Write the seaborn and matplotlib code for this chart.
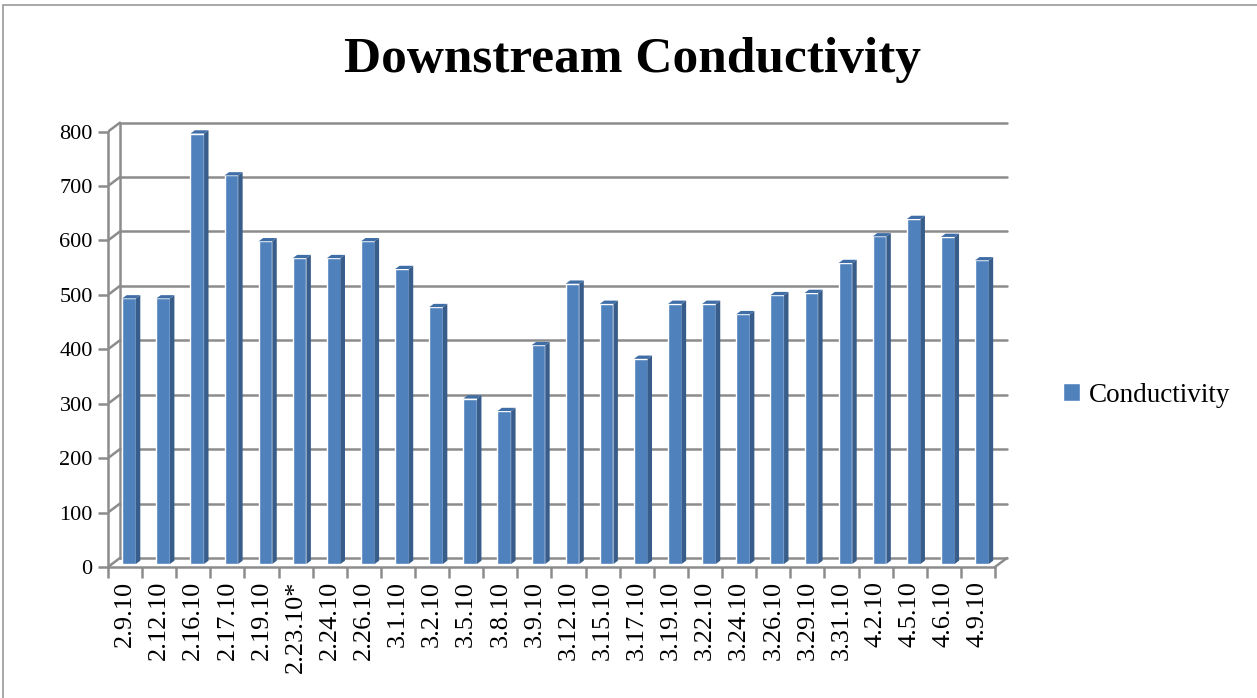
import matplotlib
matplotlib.use("Agg")
from matplotlib import pyplot as plt
from matplotlib.patches import Polygon, Rectangle
from matplotlib.transforms import ScaledTranslation
import numpy as np
import pandas as pd
import seaborn as sns

# dados
datas = ['2.9.10', '2.12.10', '2.16.10', '2.17.10', '2.19.10', '2.23.10*', '2.24.10',
         '2.26.10', '3.1.10', '3.2.10', '3.5.10', '3.8.10', '3.9.10', '3.12.10',
         '3.15.10', '3.17.10', '3.19.10', '3.22.10', '3.24.10', '3.26.10', '3.29.10',
         '3.31.10', '4.2.10', '4.5.10', '4.6.10', '4.9.10']
condutividade = [488, 488, 791, 714, 593, 562, 562, 593, 542, 472, 304, 281, 402, 515,
                 478, 377, 478, 478, 459, 494, 498, 553, 602, 634, 601, 558]
y_ticks = [0, 100, 200, 300, 400, 500, 600, 700, 800]

azul = '#4F81BD'
azul_lado = '#385D8A'
azul_topo = '#3F6DA6'
cinza = '#8C8C8C'

sns.set_style('white')
plt.rcParams['font.family'] = ['Liberation Serif', 'DejaVu Serif']
plt.rcParams['text.color'] = 'black'

df = pd.DataFrame({'Data': datas, 'Conductivity': condutividade})

fig = plt.figure(figsize=(12.57, 6.98), dpi=100)
ax = fig.add_axes([0.0859, 0.1877, 0.7165, 0.6393])

sns.barplot(data=df, x='Data', y='Conductivity', color=azul, width=0.4,
            saturation=1, ax=ax, label='Conductivity', zorder=3)

n = len(datas)
ax.set_xlim(-0.5, n - 0.5 + 0.4)
ax.set_ylim(0, 820)

# parede do fundo (efeito 3D)
dxc, dyc = 0.35, 16.5
for v in y_ticks:
    ax.plot([-0.5 + dxc, n - 0.5 + dxc], [v + dyc, v + dyc], color=cinza, lw=1.8, zorder=1)
    ax.plot([-0.5, -0.5 + dxc], [v, v + dyc], color=cinza, lw=1.8, zorder=1)
ax.plot([-0.5 + dxc, -0.5 + dxc], [dyc, 800 + dyc], color=cinza, lw=1.8, zorder=1)
ax.plot([n - 0.5, n - 0.5 + dxc], [0, dyc], color=cinza, lw=1.8, zorder=1, clip_on=False)

# profundidade das barras
desloc = ax.transData + ScaledTranslation(4 / 100, 3 / 100, fig.dpi_scale_trans)
bx, by = 0.13, 6
for p in ax.patches:
    x0, w, h = p.get_x(), p.get_width(), p.get_height()
    p.set_transform(desloc)
    lado = Polygon([(x0 + w, 0), (x0 + w + bx, by), (x0 + w + bx, h + by), (x0 + w, h)],
                   closed=True, facecolor=azul_lado, edgecolor='none', zorder=3,
                   transform=desloc)
    topo = Polygon([(x0, h), (x0 + w, h), (x0 + w + bx, h + by), (x0 + bx, h + by)],
                   closed=True, facecolor=azul_topo, edgecolor='none', zorder=3,
                   transform=desloc)
    ax.add_patch(lado)
    ax.add_patch(topo)

for s in ['top', 'right']:
    ax.spines[s].set_visible(False)
ax.spines['left'].set_bounds(0, 800)
ax.spines['bottom'].set_bounds(-0.5, n - 0.5)
for s in ['left', 'bottom']:
    ax.spines[s].set_color(cinza)
    ax.spines[s].set_linewidth(1.8)

ax.set_yticks(y_ticks)
ax.set_yticklabels([str(v) for v in y_ticks], fontsize=16)
ax.tick_params(axis='y', length=7, width=1.8, color=cinza, labelcolor='black',
               direction='out', left=True, pad=4)
ax.set_xticks(np.arange(n))
ax.set_xticklabels(datas, rotation=90, fontsize=19, va='top')
ax.set_xticks(np.arange(-0.5, n, 1), minor=True)
ax.tick_params(axis='x', which='major', length=0, pad=10, labelcolor='black')
ax.tick_params(axis='x', which='minor', length=8, width=1.8, color=cinza, direction='out', bottom=True)
ax.set_xlabel('')
ax.set_ylabel('')

fig.text(0.503, 0.914, 'Downstream Conductivity', ha='center', va='center',
         fontsize=37, fontweight='bold', color='black')

ax.legend(loc='center left', bbox_to_anchor=(0.846, 0.434), bbox_transform=fig.transFigure,
          frameon=False, fontsize=19.5, handlelength=0.6, handleheight=0.6,
          handletextpad=0.35, borderpad=0, borderaxespad=0, labelcolor='black')

fig.patches.append(Rectangle((3 / 1257, -0.1), 1.1, 0.1 + 693 / 698, transform=fig.transFigure,
                             fill=False, edgecolor='#9A9A9A', lw=1.2))

fig.savefig('out.png', dpi=100)
